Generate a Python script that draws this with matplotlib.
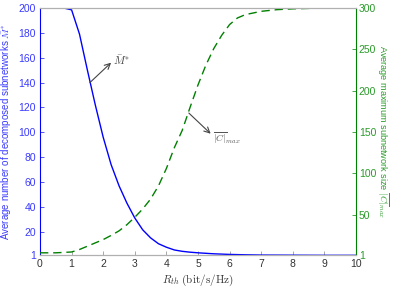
import matplotlib
matplotlib.use("Agg")
import matplotlib.pyplot as plt

plt.rcParams['font.family'] = 'Liberation Sans'
plt.rcParams['mathtext.fontset'] = 'cm'

# Rth values (bit/s/Hz)
rth_m = [0, 0.5, 0.75, 1, 1.25, 1.5, 1.75, 2, 2.25, 2.5, 2.75, 3, 3.25, 3.5,
         3.75, 4, 4.25, 4.5, 4.75, 5, 5.5, 6, 6.5, 7, 8, 9, 10]
# average number of decomposed subnetworks
m_star = [200, 200, 200, 198.5, 179, 150, 122, 96, 74, 57, 43, 31, 21.5, 15,
          10.3, 7.5, 5.3, 4.2, 3.5, 3.0, 2.2, 1.7, 1.4, 1.2, 1.1, 1.0, 1.0]

rth_c = [0, 0.5, 1, 1.25, 1.5, 1.75, 2, 2.25, 2.5, 2.75, 3, 3.25, 3.5, 3.75,
         4, 4.25, 4.5, 4.75, 5, 5.25, 5.5, 5.75, 6, 6.25, 6.5, 7, 7.5, 8, 9, 10]
# average max subnetwork size
c_max = [4, 4, 5, 8, 12, 16, 20, 25, 30.5, 38, 47, 57, 69, 85,
         106, 131, 152, 180, 207, 231, 251, 267, 280, 288, 292, 296, 298, 299, 300, 300]

left_ticks = [1, 20, 40, 60, 80, 100, 120, 140, 160, 180, 200]
right_ticks = [1, 50, 100, 150, 200, 250, 300]
x_ticks = list(range(0, 11))

blue = '#0000ff'
green = '#008000'
tick_blue = '#3a3aff'
tick_green = '#2a9a2a'

fig = plt.figure(figsize=(3.94, 2.91), dpi=100)
ax = fig.add_axes([0.1015, 0.1227, 0.8021, 0.8498])
ax2 = ax.twinx()

ax.plot(rth_m, m_star, color=blue, lw=1.0)
ax2.plot(rth_c, c_max, color=green, lw=1.0, dashes=(6, 3.5))

ax.set_xlim(0, 10)
ax.set_ylim(1, 200)
ax2.set_ylim(1, 300)
ax.set_xticks(x_ticks)
ax.set_yticks(left_ticks)
ax2.set_yticks(right_ticks)

for a in (ax, ax2):
    a.tick_params(direction='in', length=3, width=0.6, labelsize=7.5, pad=3)
    for s in a.spines.values():
        s.set_linewidth(0.8)
        s.set_color('#b0b0b0')
ax2.tick_params(axis='y', pad=2)
ax.tick_params(axis='x', colors='#999999', labelcolor='#333333')
ax.tick_params(axis='y', colors=tick_blue, labelcolor=tick_blue)
ax2.tick_params(axis='y', colors=tick_green, labelcolor=tick_green)
ax.spines['left'].set_color(blue)
ax2.spines['left'].set_visible(False)
ax2.spines['right'].set_color(green)
ax.spines['right'].set_visible(False)

ax.set_xlabel(r'$R_{th}\ \mathrm{(bit/s/Hz)}$', fontsize=8, color='#333333', labelpad=2)
ax.set_ylabel(r'Average number of decomposed subnetworks $\bar{M}^{*}$',
              fontsize=7, color=tick_blue, labelpad=4)
ax2.set_ylabel(r'Average maximum subnetwork size $\overline{|C|}_{max}$',
               fontsize=6.6, color=tick_green, rotation=-90,
               va='center', ha='center')
ax2.yaxis.set_label_coords(1.085, 0.5)

arrow = dict(arrowstyle='->', color='#444444', lw=0.8, shrinkA=0, shrinkB=0)
ax.annotate('', xy=(2.25, 156), xytext=(1.58, 140), arrowprops=arrow)
ax.text(2.32, 158, r'$\bar{M}^{*}$', fontsize=8, color='#444444', va='center')
ax2.annotate('', xy=(5.4, 148), xytext=(4.71, 173), arrowprops=arrow)
ax2.text(5.47, 143, r'$\overline{|C|}_{max}$', fontsize=7, color='#555555', va='center')

fig.savefig('out.png', dpi=100)
